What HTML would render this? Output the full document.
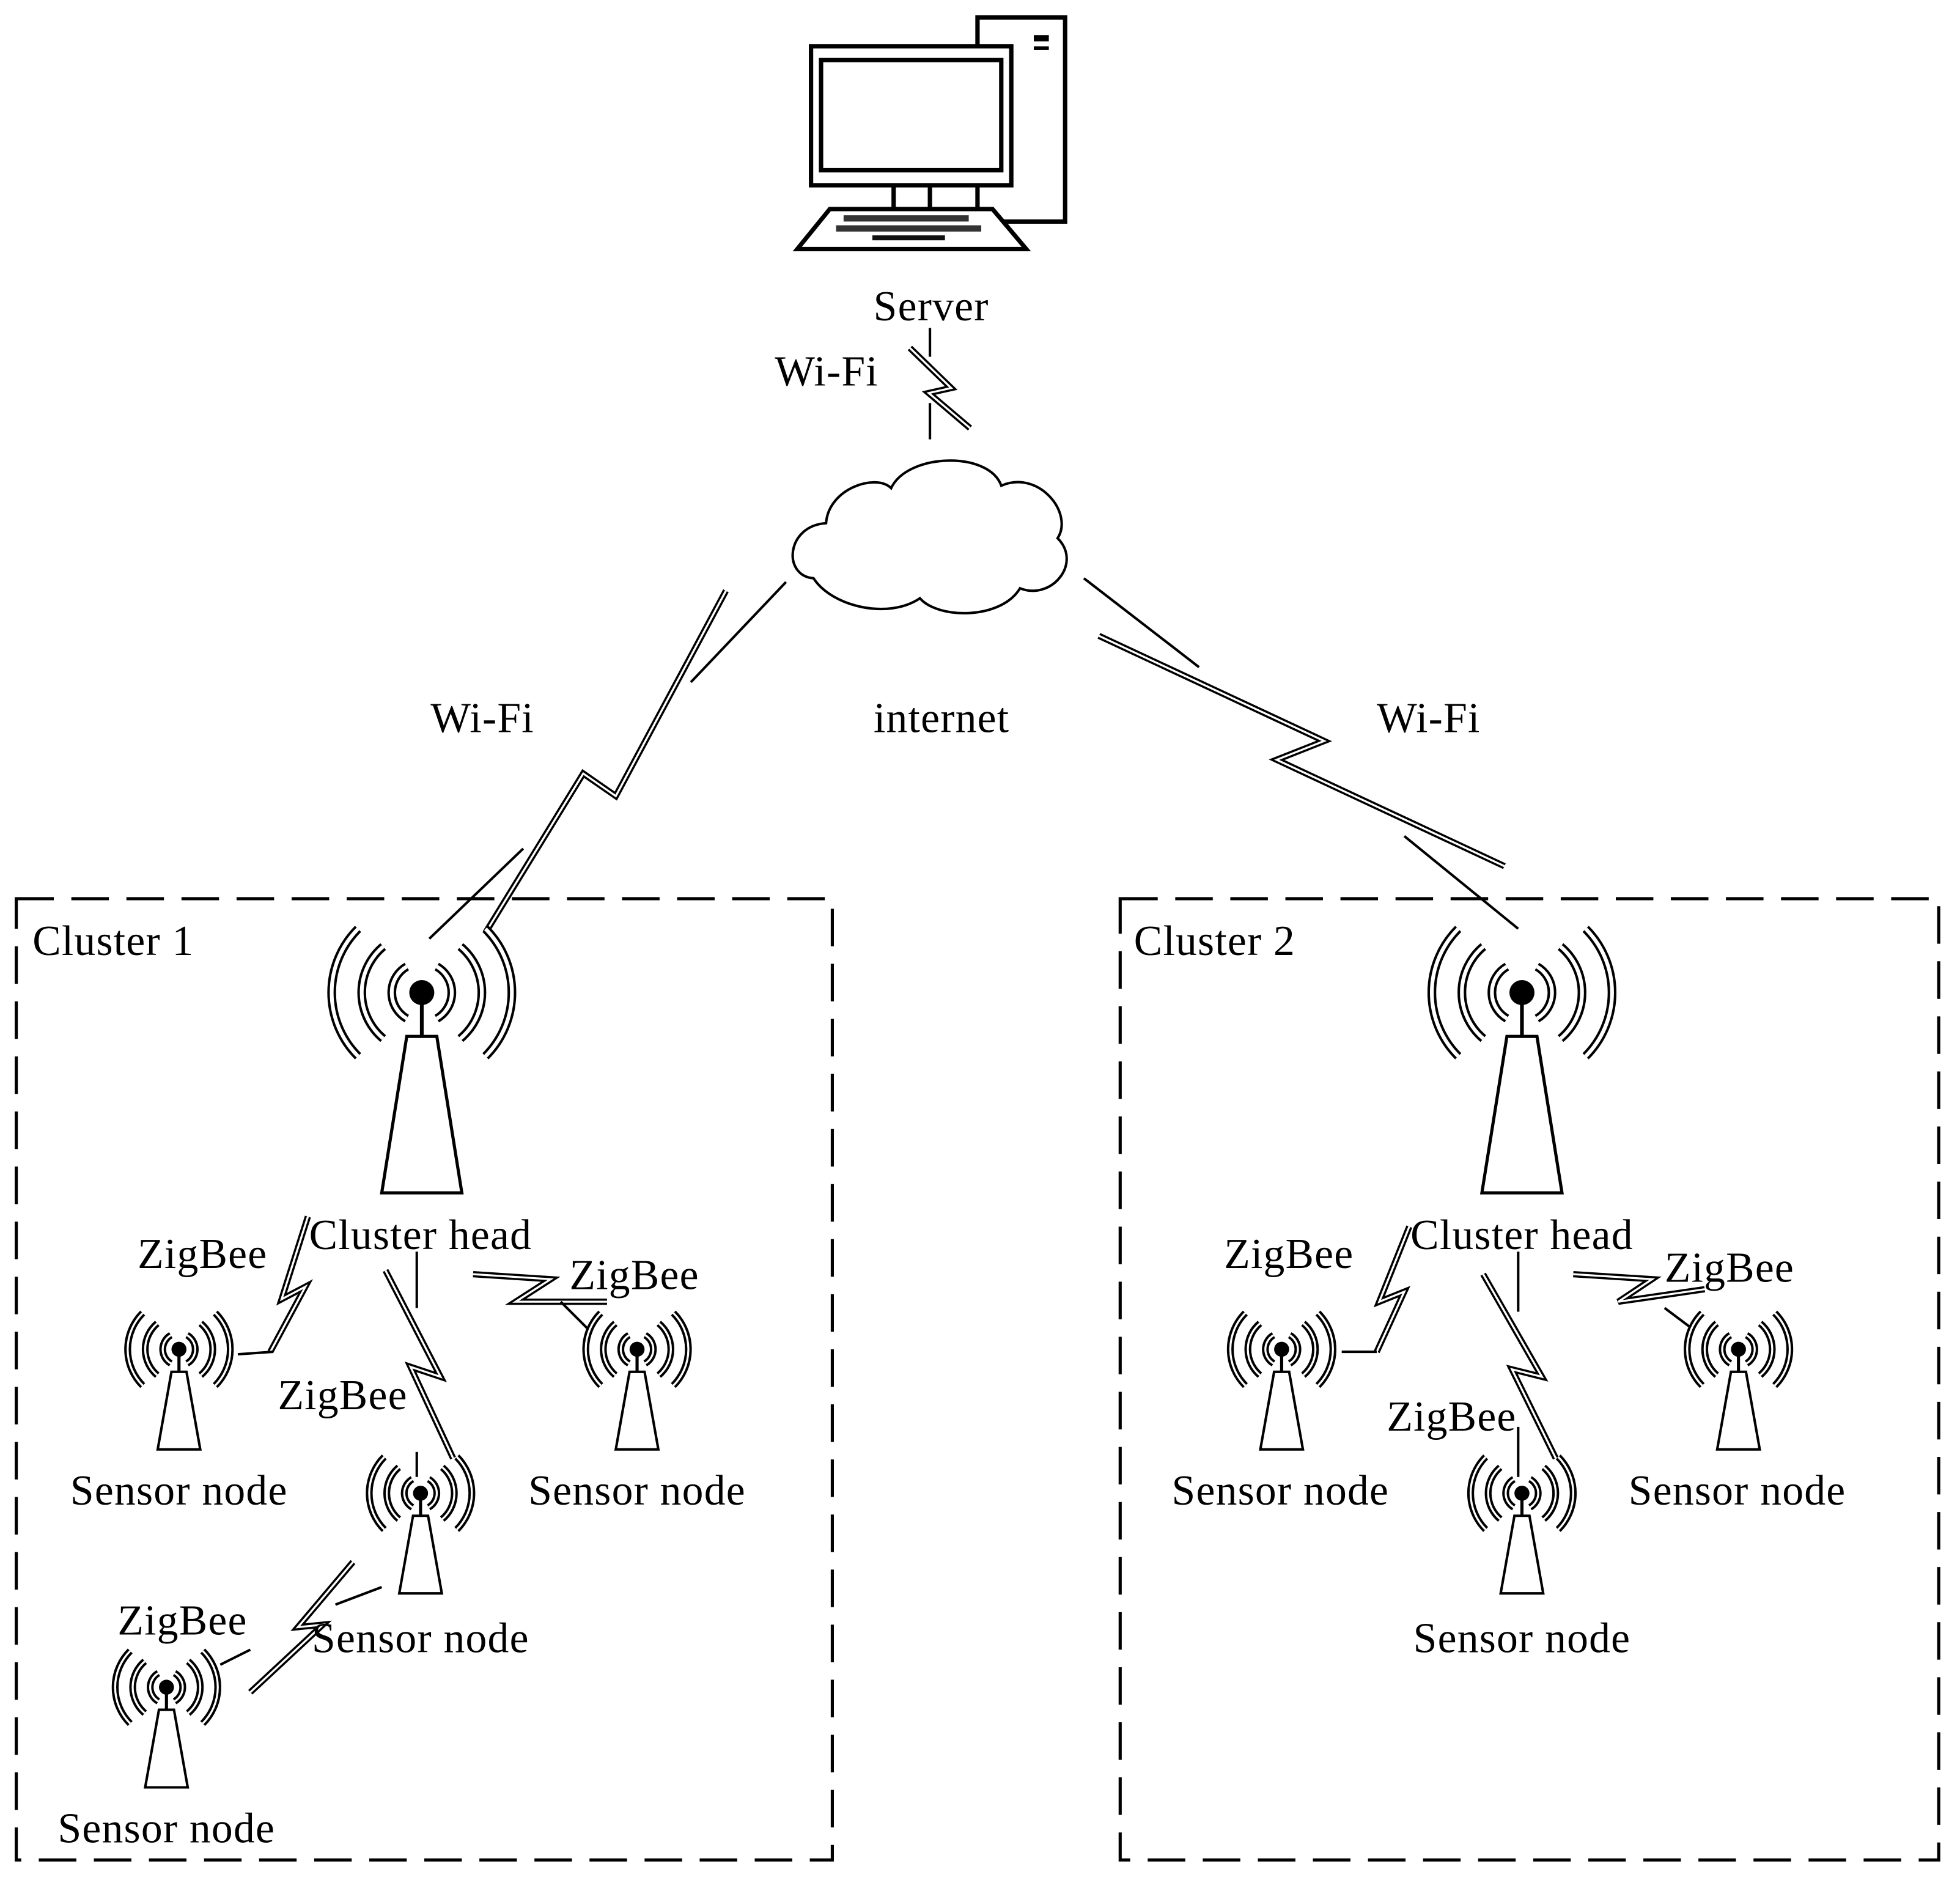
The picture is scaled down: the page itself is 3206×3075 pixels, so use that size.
<!DOCTYPE html>
<html><head><meta charset="utf-8"><style>
html,body{margin:0;padding:0;background:#fff}
svg{display:block}
text{font-family:"Liberation Serif",serif;font-size:34px;letter-spacing:0.6px;fill:#000}
</style></head><body>
<svg width="3206" height="3075" viewBox="0 0 1566 1502" xmlns="http://www.w3.org/2000/svg">
<defs>
<g id="arcsH" fill="none">
<path d="M12,-20.78 A24,24 0 0 1 12,20.78 M-12,-20.78 A24,24 0 0 0 -12,20.78 M30.85,-36.77 A48,48 0 0 1 30.85,36.77 M-30.85,-36.77 A48,48 0 0 0 -30.85,36.77 M50.91,-50.91 A72,72 0 0 1 50.91,50.91 M-50.91,-50.91 A72,72 0 0 0 -50.91,50.91"/>
</g>
<g id="head">
<use href="#arcsH" stroke="#000" stroke-width="7"/>
<use href="#arcsH" stroke="#fff" stroke-width="3"/>
<circle cx="0" cy="0" r="10" fill="#000"/>
<line x1="0" y1="8" x2="0" y2="35" stroke="#000" stroke-width="3"/>
<polygon points="-12,35 12,35 32,160 -32,160" fill="#fff" stroke="#000" stroke-width="2.5"/>
</g>
<g id="arcsS" fill="none">
<path d="M6.5,-11.26 A13,13 0 0 1 6.5,11.26 M-6.5,-11.26 A13,13 0 0 0 -6.5,11.26 M17.36,-20.68 A27,27 0 0 1 17.36,20.68 M-17.36,-20.68 A27,27 0 0 0 -17.36,20.68 M28.99,-28.99 A41,41 0 0 1 28.99,28.99 M-28.99,-28.99 A41,41 0 0 0 -28.99,28.99"/>
</g>
<g id="sn">
<use href="#arcsS" stroke="#000" stroke-width="5.5"/>
<use href="#arcsS" stroke="#fff" stroke-width="1.6"/>
<circle cx="0" cy="0" r="6" fill="#000"/>
<line x1="0" y1="4" x2="0" y2="18" stroke="#000" stroke-width="2.5"/>
<polygon points="-6,18 6,18 17,80 -17,80" fill="#fff" stroke="#000" stroke-width="2"/>
</g>
</defs>

<g stroke="#000" stroke-width="3.5" fill="#fff">
<rect x="781" y="14" width="70" height="163"/>
<rect x="648" y="37" width="160" height="111"/>
<rect x="656" y="48" width="144" height="88"/>
<line x1="714" y1="148" x2="714" y2="167"/>
<line x1="743" y1="148" x2="743" y2="167"/>
<polygon points="663,167 793,167 820,199 637,199"/>
</g>
<rect x="826" y="28" width="12" height="5" fill="#000"/>
<rect x="826" y="37" width="12" height="3" fill="#000"/>
<g fill="#333">
<rect x="674" y="172" width="100" height="5"/>
<rect x="668" y="180" width="116" height="5"/>
<rect x="697" y="188" width="58" height="4" fill="#111"/>
</g>

<text x="744" y="256" text-anchor="middle">Server</text>
<text x="619" y="308">Wi-Fi</text>
<g stroke="#000" stroke-width="2" fill="none">
<line x1="743" y1="262" x2="743" y2="285"/>
<line x1="743" y1="322" x2="743" y2="351"/>
</g>

<path d="M650,462 C625,460 628,420 660,418 C662,390 700,378 712,390 C725,362 790,360 800,388 C830,375 858,410 845,430 C865,450 840,480 815,470 C800,495 750,495 735,478 C710,495 665,485 650,462 Z" fill="#fff" stroke="#000" stroke-width="2"/>

<g stroke="#000" stroke-width="2" fill="none">
<line x1="628" y1="465" x2="552" y2="545"/>
<line x1="418" y1="678" x2="343" y2="750"/>
<line x1="866" y1="462" x2="958" y2="533"/>
<line x1="1122" y1="668" x2="1213" y2="742"/>
</g>
<g fill="none" stroke-linejoin="miter">
<g stroke="#000" stroke-width="5">
<polyline points="727,278 760,310 742,314 775,342"/>
<polyline points="580,472 492,636 466,618 388,745"/>
<polyline points="878,508 1058,592 1020,607 1202,692"/>
<polyline points="246,972 225,1038 244,1028 216,1080"/>
<polyline points="308,1015 352,1100 328,1092 362,1165"/>
<polyline points="378,1018 440,1022 412,1040 485,1040"/>
<polyline points="282,1248 238,1300 258,1298 200,1352"/>
<polyline points="1126,980 1102,1040 1122,1032 1100,1080"/>
<polyline points="1185,1018 1232,1100 1208,1094 1243,1165"/>
<polyline points="1257,1018 1320,1022 1293,1040 1362,1030"/>
</g>
<g stroke="#fff" stroke-width="1.6">
<polyline points="727,278 760,310 742,314 775,342"/>
<polyline points="580,472 492,636 466,618 388,745"/>
<polyline points="878,508 1058,592 1020,607 1202,692"/>
<polyline points="246,972 225,1038 244,1028 216,1080"/>
<polyline points="308,1015 352,1100 328,1092 362,1165"/>
<polyline points="378,1018 440,1022 412,1040 485,1040"/>
<polyline points="282,1248 238,1300 258,1298 200,1352"/>
<polyline points="1126,980 1102,1040 1122,1032 1100,1080"/>
<polyline points="1185,1018 1232,1100 1208,1094 1243,1165"/>
<polyline points="1257,1018 1320,1022 1293,1040 1362,1030"/>
</g>
</g>

<text x="344" y="585">Wi-Fi</text>
<text x="698" y="585">internet</text>
<text x="1100" y="585">Wi-Fi</text>

<g fill="none" stroke="#000" stroke-width="2.5" stroke-dasharray="30,14">
<rect x="13" y="718" width="652" height="768"/>
<rect x="895" y="718" width="654" height="768"/>
</g>
<text x="26" y="763">Cluster 1</text>
<text x="906" y="763">Cluster 2</text>

<use href="#head" x="337" y="793"/>
<use href="#head" x="1216" y="793"/>
<text x="336" y="998" text-anchor="middle">Cluster head</text>
<text x="1216" y="998" text-anchor="middle">Cluster head</text>

<g stroke="#000" stroke-width="2" fill="none">
<line x1="333" y1="1000" x2="333" y2="1045"/>
<line x1="333" y1="1160" x2="333" y2="1180"/>
<line x1="448" y1="1040" x2="470" y2="1062"/>
<line x1="176" y1="1330" x2="200" y2="1318"/>
<line x1="268" y1="1282" x2="305" y2="1268"/>
<line x1="218" y1="1080" x2="190" y2="1082"/>
<line x1="1213" y1="1000" x2="1213" y2="1048"/>
<line x1="1213" y1="1140" x2="1213" y2="1180"/>
<line x1="1330" y1="1045" x2="1350" y2="1060"/>
<line x1="1100" y1="1080" x2="1072" y2="1080"/>
</g>

<use href="#sn" x="143" y="1078"/>
<use href="#sn" x="509" y="1078"/>
<use href="#sn" x="336" y="1193"/>
<use href="#sn" x="133" y="1348"/>
<use href="#sn" x="1024" y="1078"/>
<use href="#sn" x="1389" y="1078"/>
<use href="#sn" x="1216" y="1193"/>

<text x="143" y="1202" text-anchor="middle">Sensor node</text>
<text x="509" y="1202" text-anchor="middle">Sensor node</text>
<text x="336" y="1320" text-anchor="middle">Sensor node</text>
<text x="133" y="1472" text-anchor="middle">Sensor node</text>
<text x="1023" y="1202" text-anchor="middle">Sensor node</text>
<text x="1388" y="1202" text-anchor="middle">Sensor node</text>
<text x="1216" y="1320" text-anchor="middle">Sensor node</text>

<text x="110" y="1013">ZigBee</text>
<text x="455" y="1030">ZigBee</text>
<text x="222" y="1126">ZigBee</text>
<text x="94" y="1306">ZigBee</text>
<text x="978" y="1013">ZigBee</text>
<text x="1330" y="1024">ZigBee</text>
<text x="1108" y="1143">ZigBee</text>
</svg>
</body></html>
